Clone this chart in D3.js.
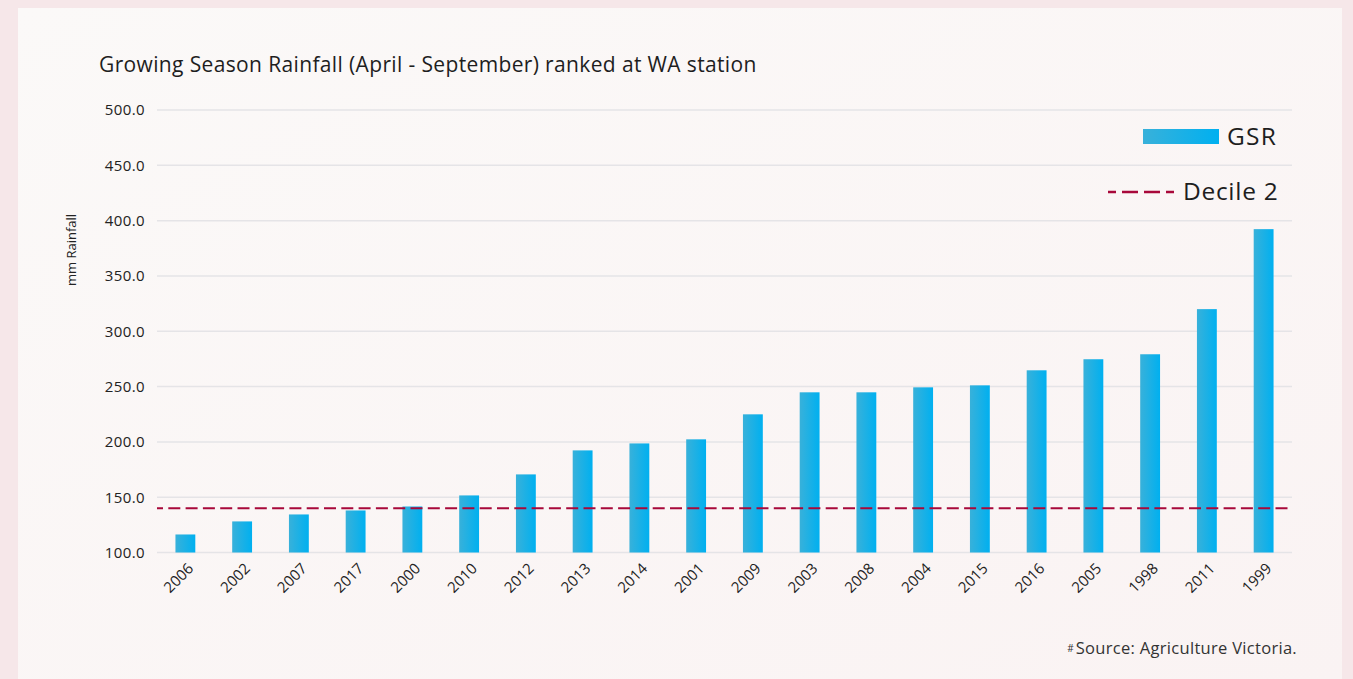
<!DOCTYPE html>
<html lang="en">
<head>
    <meta charset="UTF-8">
    <title>Growing Season Rainfall</title>
    <style>
        body {
            margin: 0;
            background: #f6e7e9;
        }
    </style>
</head>
<body>
<div id="chart"></div>
<script src="https://d3js.org/d3.v7.min.js"></script>
<script>
    // data
    const years = ["2006", "2002", "2007", "2017", "2000", "2010", "2012", "2013", "2014", "2001",
        "2009", "2003", "2008", "2004", "2015", "2016", "2005", "1998", "2011", "1999"];
    const gsr = [116.3, 128.1, 134.4, 138.0, 141.6, 151.6, 170.6, 192.3, 198.6, 202.3,
        224.9, 244.8, 244.8, 249.3, 251.1, 264.7, 274.7, 279.2, 320.0, 392.3];
    const decile2 = 140;
    const yTicks = [100, 150, 200, 250, 300, 350, 400, 450, 500];

    const W = 1353, H = 679;
    const margin = {top: 110, right: 61, bottom: 127, left: 157};
    const font = "'Open Sans', sans-serif";

    const svg = d3.select("#chart").append("svg")
        .attr("width", W)
        .attr("height", H)
        .style("display", "block");

    const defs = svg.append("defs");
    const bg = defs.append("linearGradient").attr("id", "cardBg")
        .attr("x1", "0").attr("y1", "0").attr("x2", "1").attr("y2", "1");
    bg.append("stop").attr("offset", "0").attr("stop-color", "#fbf9f8");
    bg.append("stop").attr("offset", "1").attr("stop-color", "#faf3f3");

    const barGrad = defs.append("linearGradient").attr("id", "barGrad")
        .attr("x1", "0").attr("y1", "0").attr("x2", "1").attr("y2", "0");
    barGrad.append("stop").attr("offset", "0").attr("stop-color", "#38b1da");
    barGrad.append("stop").attr("offset", "1").attr("stop-color", "#00b0f0");

    // card
    svg.append("rect")
        .attr("x", 18).attr("y", 8)
        .attr("width", 1324).attr("height", H - 8)
        .attr("fill", "url(#cardBg)");

    const x = d3.scaleBand()
        .domain(years)
        .range([margin.left, W - margin.right])
        .paddingInner(0.65)
        .paddingOuter(0.325);

    const y = d3.scaleLinear()
        .domain([100, 500])
        .range([H - margin.bottom + 0.5, margin.top]);

    // grid
    svg.append("g")
        .selectAll("line")
        .data(yTicks)
        .join("line")
        .attr("x1", margin.left)
        .attr("x2", W - margin.right)
        .attr("y1", d => y(d))
        .attr("y2", d => y(d))
        .attr("stroke", "#e5e4e7")
        .attr("stroke-width", 1.5);

    // y axis labels
    const yAxis = svg.append("g")
        .attr("transform", `translate(${margin.left - 12},0)`)
        .call(d3.axisLeft(y).tickValues(yTicks).tickFormat(d3.format(".1f")).tickSize(0).tickPadding(0));
    yAxis.select(".domain").remove();
    yAxis.selectAll("text")
        .attr("font-family", font)
        .attr("font-size", 15)
        .attr("letter-spacing", 0.4)
        .attr("fill", "#222");

    // bars
    svg.append("g")
        .selectAll("rect")
        .data(years)
        .join("rect")
        .attr("x", d => x(d))
        .attr("width", x.bandwidth())
        .attr("y", (d, i) => y(gsr[i]))
        .attr("height", (d, i) => y(100) - y(gsr[i]))
        .attr("fill", "url(#barGrad)");

    // decile 2 line
    svg.append("line")
        .attr("x1", margin.left)
        .attr("x2", W - margin.right)
        .attr("y1", y(decile2))
        .attr("y2", y(decile2))
        .attr("stroke", "#a8083a")
        .attr("stroke-width", 2.2)
        .attr("stroke-dasharray", "12,5.3")
        .attr("stroke-dashoffset", 6);

    // x axis labels
    const xAxis = svg.append("g")
        .attr("transform", `translate(0,${y(100)})`)
        .call(d3.axisBottom(x).tickSize(0).tickPadding(0));
    xAxis.select(".domain").remove();
    xAxis.selectAll("text")
        .attr("font-family", font)
        .attr("font-size", 15)
        .attr("fill", "#222")
        .attr("text-anchor", "end")
        .attr("dy", null)
        .attr("y", 0)
        .attr("transform", "translate(9,17) rotate(-45)");

    // axis title
    svg.append("text")
        .attr("transform", "translate(76,250) rotate(-90)")
        .attr("text-anchor", "middle")
        .attr("font-family", font)
        .attr("font-size", 13)
        .attr("fill", "#222")
        .text("mm Rainfall");

    // chart title
    svg.append("text")
        .attr("x", 99)
        .attr("y", 72)
        .attr("font-family", font)
        .attr("font-size", 21)
        .attr("letter-spacing", 0.36)
        .attr("fill", "#1e1e1e")
        .text("Growing Season Rainfall (April - September) ranked at WA station");

    // legend
    const legend = svg.append("g");
    legend.append("rect")
        .attr("x", 1143).attr("y", 129)
        .attr("width", 76).attr("height", 15)
        .attr("fill", "url(#barGrad)");
    legend.append("text")
        .attr("x", 1227).attr("y", 145)
        .attr("font-family", font)
        .attr("font-size", 24.5)
        .attr("letter-spacing", 1.2)
        .attr("fill", "#1e1e1e")
        .text("GSR");
    legend.append("line")
        .attr("x1", 1108).attr("x2", 1174)
        .attr("y1", 192).attr("y2", 192)
        .attr("stroke", "#a8083a")
        .attr("stroke-width", 2.5)
        .attr("stroke-dasharray", "16,6")
        .attr("stroke-dashoffset", 8);
    legend.append("text")
        .attr("x", 1183).attr("y", 200)
        .attr("font-family", font)
        .attr("font-size", 24.5)
        .attr("letter-spacing", 0.7)
        .attr("fill", "#1e1e1e")
        .text("Decile 2");

    // source
    const src = svg.append("text")
        .attr("x", 1297).attr("y", 654)
        .attr("text-anchor", "end")
        .attr("font-family", font)
        .attr("fill", "#333");
    src.append("tspan").attr("font-size", 10).attr("dy", -2).text("#");
    src.append("tspan").attr("font-size", 16.5).attr("letter-spacing", 0.3).attr("dx", 2).attr("dy", 2).text("Source: Agriculture Victoria.");
</script>
</body>
</html>
